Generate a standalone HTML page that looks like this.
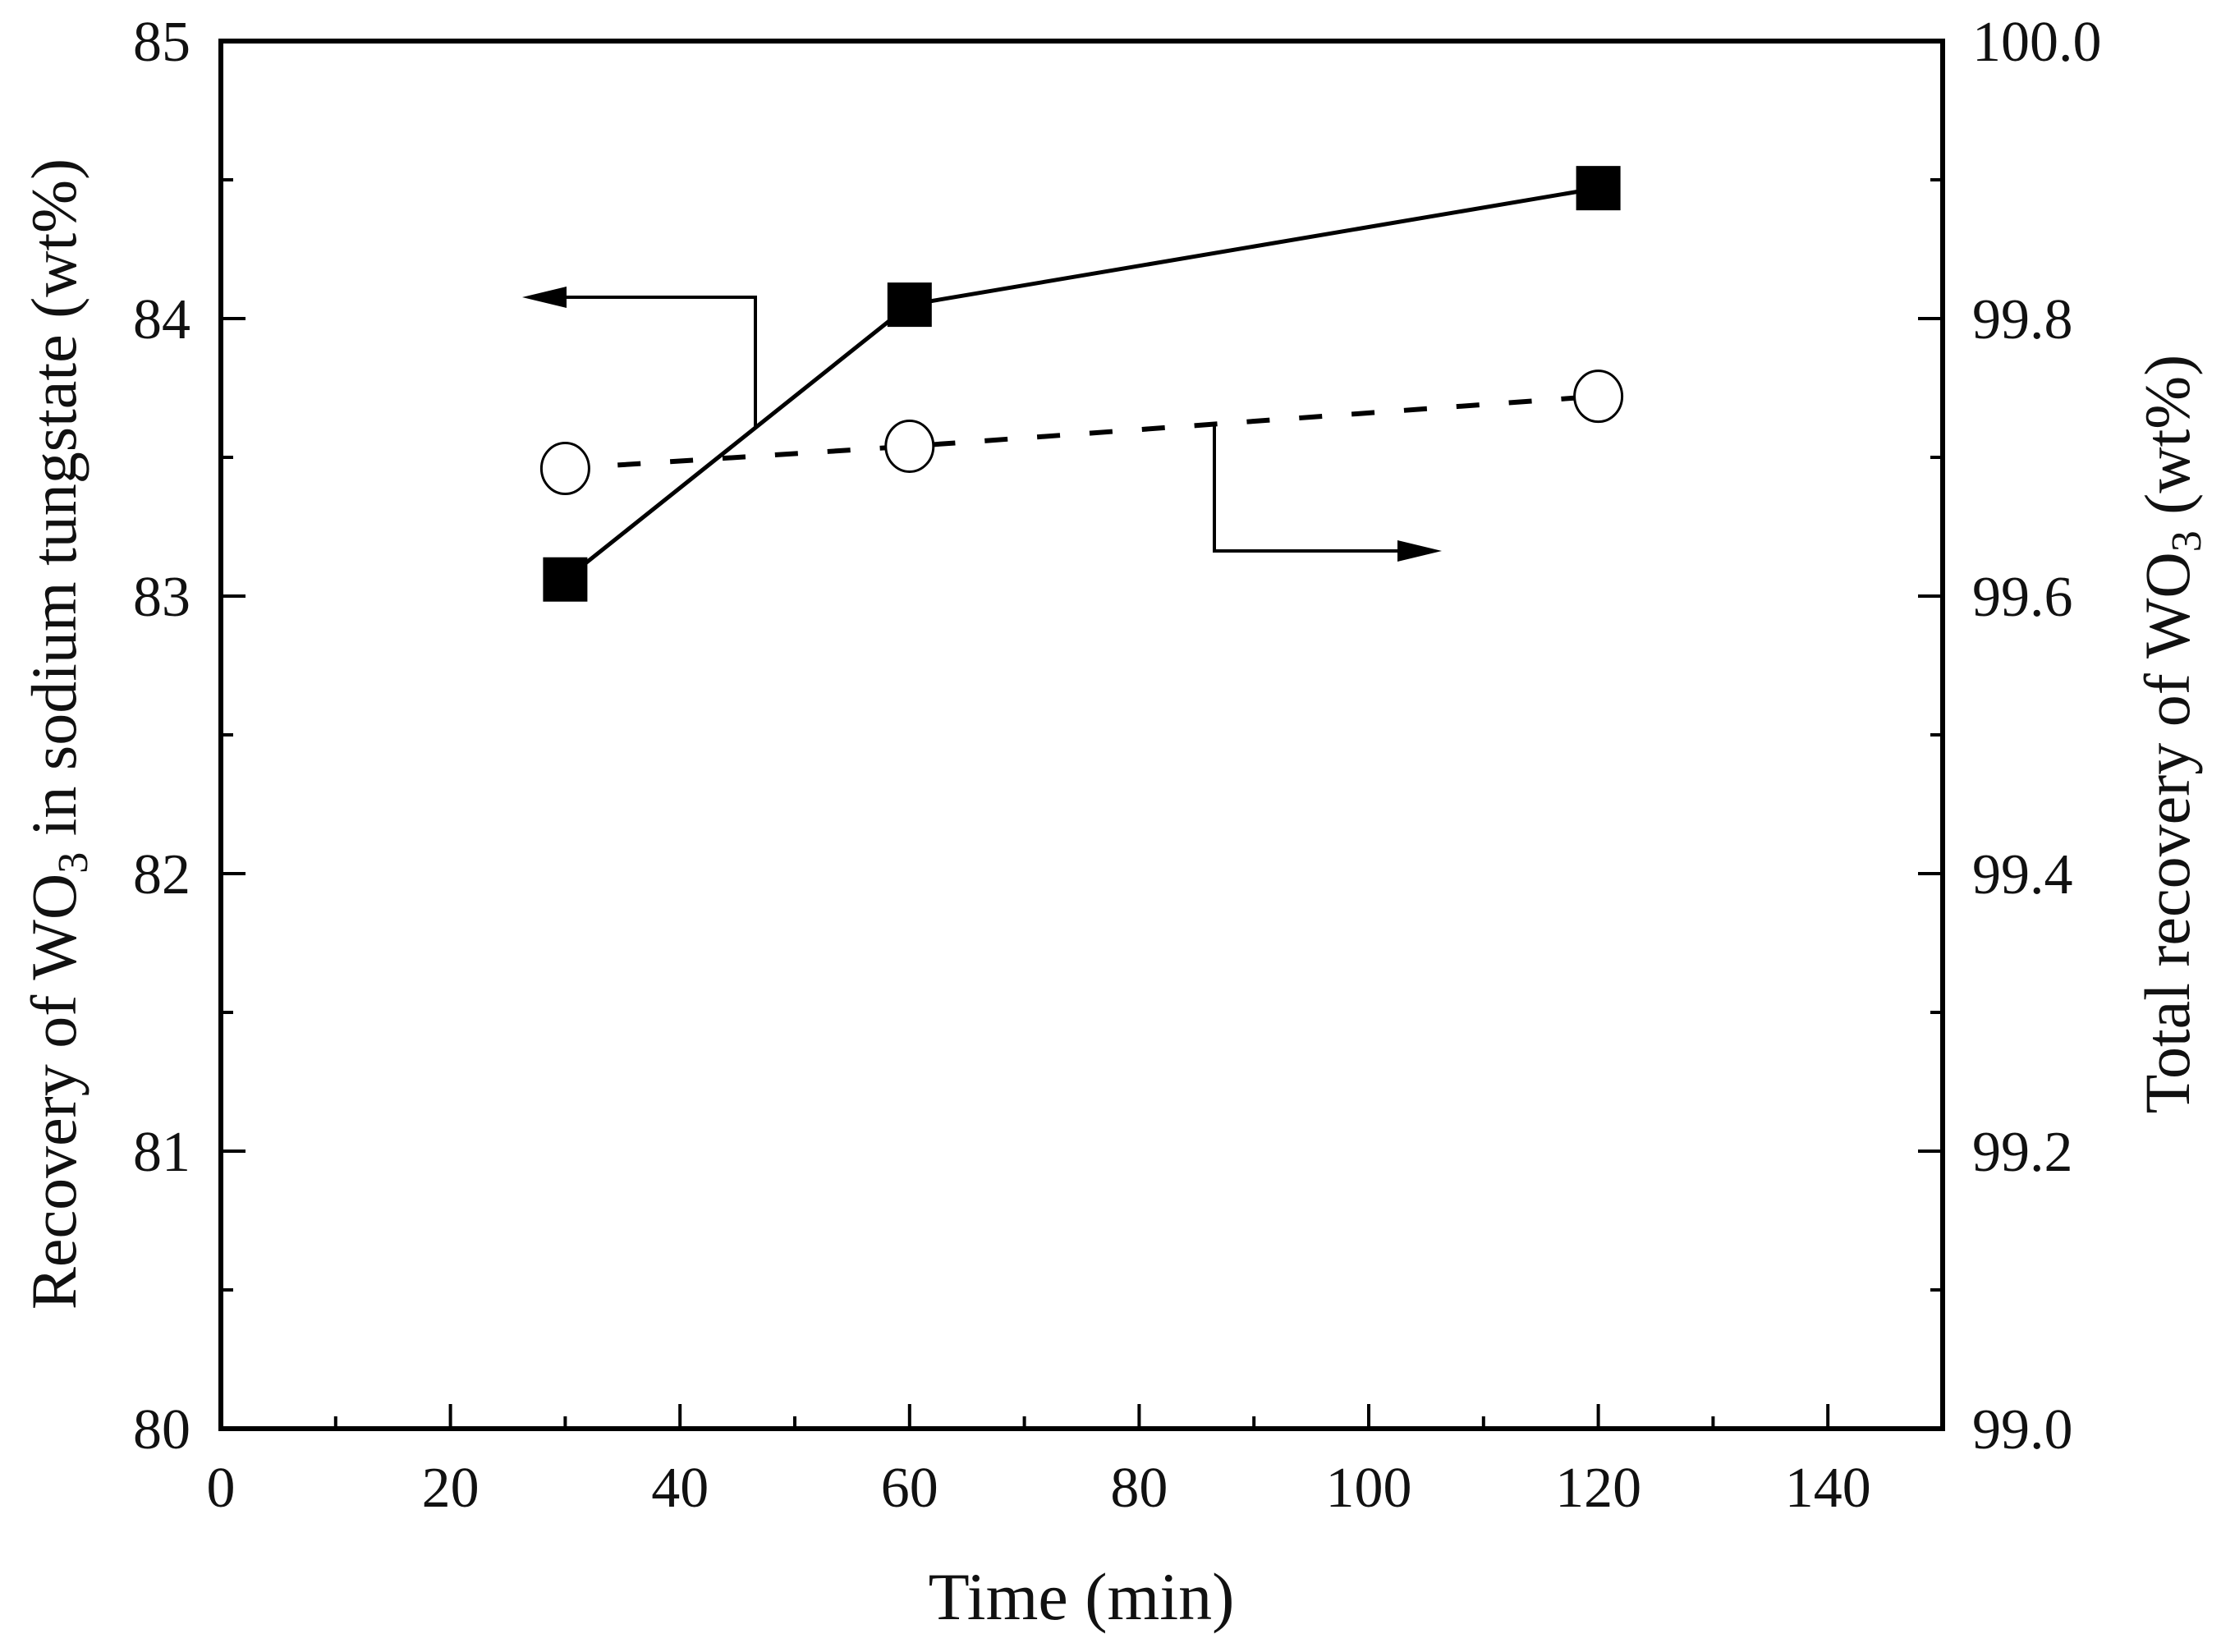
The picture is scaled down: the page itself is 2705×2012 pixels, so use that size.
<!DOCTYPE html>
<html><head><meta charset="utf-8"><style>
html,body{margin:0;padding:0;background:#fff;}
svg{display:block;}
text{font-family:"Liberation Serif",serif;fill:#111;}
</style></head>
<body>
<svg id="chart" width="2705" height="2012" viewBox="0 0 2705 2012" xmlns="http://www.w3.org/2000/svg">
<rect width="2705" height="2012" fill="#fff"/>
<g id="axes"></g>
<g id="marks"></g>
<g stroke="#000" stroke-width="4" fill="none">
<polyline points="920,520 920,362 680,362"/>
<polygon points="636,362 690,349 690,375" fill="#000" stroke="none"/>
</g>
<g stroke="#000" stroke-width="4" fill="none">
<polyline points="1479,515 1479,671 1710,671"/>
<polygon points="1756,671 1702,658 1702,684" fill="#000" stroke="none"/>
</g>
<text x="1317" y="1972" font-size="82" text-anchor="middle">Time (min)</text>
<text transform="translate(92,894) rotate(-90)" font-size="78" text-anchor="middle">Recovery of WO<tspan font-size="52" dy="14">3</tspan><tspan dy="-14"> in sodium tungstate (wt%)</tspan></text>
<text transform="translate(2666,894) rotate(-90)" font-size="78" text-anchor="middle">Total recovery of WO<tspan font-size="52" dy="14">3</tspan><tspan dy="-14"> (wt%)</tspan></text>
</svg>
<script>
const times = [30, 60, 120];
const recoverySodium = [83.06, 84.05, 84.47];
const totalRecovery = [99.692, 99.708, 99.744];
const xTicks = [0, 20, 40, 60, 80, 100, 120, 140];
const leftTicks = [80, 81, 82, 83, 84, 85];
const rightTicks = ["99.0", "99.2", "99.4", "99.6", "99.8", "100.0"];

const L = 269, R = 2366, T = 50, B = 1740;
const xMin = 0, xMax = 150, lMin = 80, lMax = 85, rMin = 99, rMax = 100;
const NS = "http://www.w3.org/2000/svg";
function xs(v){ return L + (v - xMin) / (xMax - xMin) * (R - L); }
function yl(v){ return B - (v - lMin) / (lMax - lMin) * (B - T); }
function yr(v){ return B - (v - rMin) / (rMax - rMin) * (B - T); }
function mk(tag, attrs, parent){
  const e = document.createElementNS(NS, tag);
  for (const k in attrs) e.setAttribute(k, attrs[k]);
  parent.appendChild(e);
  return e;
}
const axes = document.getElementById('axes');
const marks = document.getElementById('marks');

const frame = mk('rect', {x:L, y:T, width:R-L, height:B-T, fill:'none', stroke:'#000', 'stroke-width':6}, axes);



for (let v = xMin; v <= xMax; v += 10) {
  const major = v % 20 === 0;
  const t = mk('line', {x1:xs(v), x2:xs(v), y1:B, y2:B-(major?30:15), stroke:'#000', 'stroke-width':4}, axes);
  
  
}
xTicks.forEach(v => {
  const t = mk('text', {x:xs(v), y:1835, 'font-size':70, 'text-anchor':'middle'}, axes);
  t.textContent = v;
  
  
});
for (let v = lMin; v <= lMax + 1e-9; v += 0.5) {
  const major = Math.abs(v - Math.round(v)) < 1e-9;
  const len = major ? 30 : 15;
  const a = mk('line', {x1:L, x2:L+len, y1:yl(v), y2:yl(v), stroke:'#000', 'stroke-width':4}, axes);
  
  
  const b = mk('line', {x1:R, x2:R-len, y1:yl(v), y2:yl(v), stroke:'#000', 'stroke-width':4}, axes);
  
  
}
leftTicks.forEach(v => {
  const t = mk('text', {x:232, y:yl(v)+24, 'font-size':70, 'text-anchor':'end'}, axes);
  t.textContent = v;
  
  
});
rightTicks.forEach(s => {
  const t = mk('text', {x:2402, y:yr(parseFloat(s))+24, 'font-size':70, 'text-anchor':'start'}, axes);
  t.textContent = s;
  
  
});

const dashPts = times.map((t,i) => xs(t)+','+yr(totalRecovery[i])).join(' ');
const dl = mk('polyline', {points:dashPts, fill:'none', stroke:'#000', 'stroke-width':6, 'stroke-dasharray':'28 36'}, marks);


const solidPts = times.map((t,i) => xs(t)+','+yl(recoverySodium[i])).join(' ');
const sl = mk('polyline', {points:solidPts, fill:'none', stroke:'#000', 'stroke-width':5}, marks);



times.forEach((t,i) => {
  const c = mk('ellipse', {cx:xs(t), cy:yr(totalRecovery[i]), rx:29, ry:31, fill:'#fff', stroke:'#000', 'stroke-width':3}, marks);
  
  
});
times.forEach((t,i) => {
  const s = mk('rect', {x:xs(t)-27, y:yl(recoverySodium[i])-27, width:54, height:54, fill:'#000'}, marks);
  
  
});
</script>
</body></html>
